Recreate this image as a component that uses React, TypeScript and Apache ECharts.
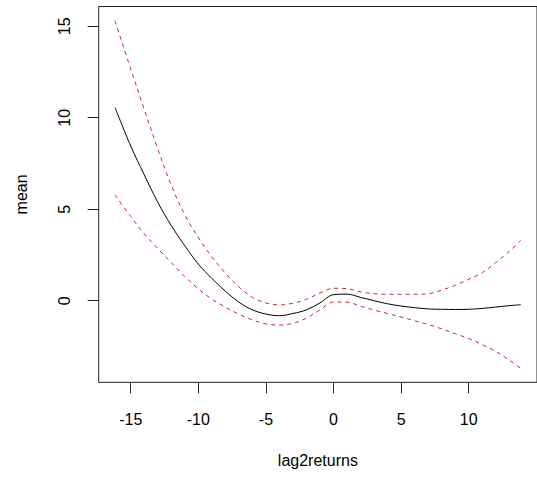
import React, { useEffect, useRef } from "react";
import * as echarts from "echarts";

const xValues = [-16.17, -15, -14, -13, -12, -11, -10, -9, -8, -7, -6, -5, -4, -3, -2, -1, 0, 1, 2, 3, 4, 5, 6, 7, 8, 9, 10, 11, 12, 13, 13.85];
const meanValues = [10.57, 8.45, 6.88, 5.38, 4.1, 3.0, 2.0, 1.22, 0.52, -0.08, -0.5, -0.73, -0.82, -0.7, -0.5, -0.12, 0.33, 0.36, 0.18, 0.0, -0.17, -0.29, -0.38, -0.45, -0.47, -0.48, -0.47, -0.42, -0.35, -0.27, -0.22];
const upperValues = [15.3, 12.67, 10.45, 8.3, 6.3, 4.7, 3.45, 2.4, 1.5, 0.75, 0.18, -0.12, -0.23, -0.14, 0.08, 0.42, 0.68, 0.66, 0.48, 0.39, 0.35, 0.35, 0.35, 0.38, 0.58, 0.84, 1.17, 1.53, 2.08, 2.7, 3.3];
const lowerValues = [5.78, 4.6, 3.65, 2.85, 2.08, 1.32, 0.65, 0.08, -0.35, -0.74, -1.05, -1.27, -1.33, -1.24, -0.95, -0.5, -0.07, -0.08, -0.3, -0.51, -0.7, -0.89, -1.1, -1.3, -1.54, -1.8, -2.07, -2.4, -2.77, -3.25, -3.7];
const xTicks = [-15, -10, -5, 0, 5, 10];
const yTicks = [0, 5, 10, 15];

const FONT = "'Liberation Sans', Arial, sans-serif";

export default function App() {
  const ref = useRef<HTMLDivElement>(null);
  useEffect(() => {
    if (!ref.current) return;
    const chart = echarts.init(ref.current, null, { renderer: "svg" });
    const pairs = (ys: number[]) => xValues.map((x, i) => [x, ys[i]]);
    chart.setOption({
      animation: false,
      backgroundColor: "#fff",
      grid: {
        left: 98.7,
        top: 6.5,
        right: -8.6,
        bottom: 94.7,
        show: true,
        borderColor: "#222",
        borderWidth: 1,
        backgroundColor: "transparent",
      },
      xAxis: {
        type: "value",
        min: -17.37,
        max: 15.05,
        name: "lag2returns",
        nameLocation: "middle",
        nameGap: 70,
        nameTextStyle: { fontFamily: FONT, fontSize: 16, color: "#000" },
        axisLine: { show: false, onZero: false },
        splitLine: { show: false },
        axisTick: { show: true, length: 11, lineStyle: { color: "#222" }, customValues: xTicks },
        axisLabel: { fontFamily: FONT, fontSize: 16, color: "#000", margin: 29, customValues: xTicks },
      },
      yAxis: {
        type: "value",
        min: -4.46,
        max: 16.08,
        name: "mean",
        nameLocation: "middle",
        nameGap: 69,
        nameTextStyle: { fontFamily: FONT, fontSize: 16, color: "#000" },
        axisLine: { show: false, onZero: false },
        splitLine: { show: false },
        axisTick: { show: true, length: 11, lineStyle: { color: "#222" }, customValues: yTicks },
        axisLabel: { fontFamily: FONT, fontSize: 16, color: "#000", margin: 26, rotate: 90, customValues: yTicks },
      },
      series: [
        {
          type: "line",
          data: pairs(meanValues),
          smooth: 0.35,
          showSymbol: false,
          lineStyle: { color: "#000", width: 1 },
        },
        {
          type: "line",
          data: pairs(upperValues),
          smooth: 0.35,
          showSymbol: false,
          lineStyle: { color: "#c82828", width: 1, type: [4, 4] },
        },
        {
          type: "line",
          data: pairs(lowerValues),
          smooth: 0.35,
          showSymbol: false,
          lineStyle: { color: "#c82828", width: 1, type: [4, 4] },
        },
      ],
    });
    return () => chart.dispose();
  }, []);
  return (
    <div
      ref={ref}
      style={{ position: "fixed", left: 0, top: 0, width: 537, height: 477 }}
    />
  );
}
